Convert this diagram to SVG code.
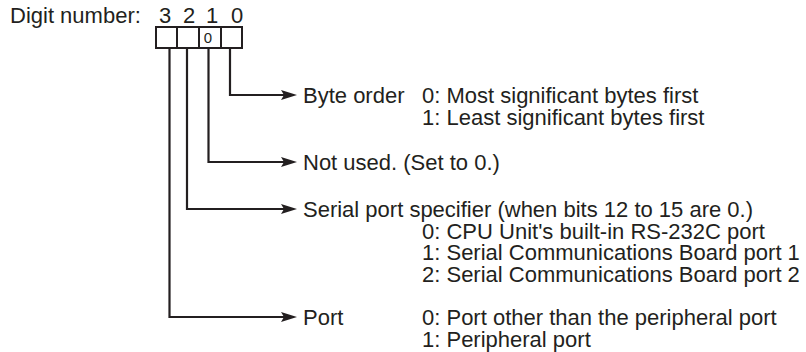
<svg xmlns="http://www.w3.org/2000/svg" width="806" height="352" viewBox="0 0 806 352">
<style>
text{font-family:"Liberation Sans",Arial,Helvetica,sans-serif;font-size:22px;fill:#231f20}
.small{font-size:15px}
.box{fill:#fff;stroke:#231f20;stroke-width:2}
.conn{fill:none;stroke:#231f20;stroke-width:2.2}
</style>
<defs>
<marker id="arr" markerUnits="userSpaceOnUse" markerWidth="16" markerHeight="10" refX="9" refY="5" orient="auto">
<path d="M0,0 L16,5 L0,10 L3,5 Z" fill="#231f20"/>
</marker>
</defs>
<g id="header">
<text x="10" y="23">Digit number:</text>
<text x="159 171 183 195 206 219 231" y="23">3 2 1 0</text>
</g>
<g id="digits">
<rect class="box" x="156" y="27" width="86" height="21"/>
<line class="box" x1="177" y1="27" x2="177" y2="48"/>
<line class="box" x1="199" y1="27" x2="199" y2="48"/>
<line class="box" x1="221" y1="27" x2="221" y2="48"/>
<text class="small" x="208" y="43" text-anchor="middle">0</text>
</g>
<g id="connectors">
<path class="conn" d="M230,48 V95 H290" marker-end="url(#arr)"/>
<path class="conn" d="M208.5,48 V162 H290" marker-end="url(#arr)"/>
<path class="conn" d="M187,48 V209 H290" marker-end="url(#arr)"/>
<path class="conn" d="M169.5,48 V317 H290" marker-end="url(#arr)"/>
</g>
<g id="byte-order">
<text x="303" y="103">Byte order</text>
<text x="422" y="103">0: Most significant bytes first</text>
<text x="422" y="124.5">1: Least significant bytes first</text>
</g>
<g id="not-used">
<text x="303" y="170">Not used. (Set to 0.)</text>
</g>
<g id="serial-port">
<text x="303" y="217">Serial port specifier (when bits 12 to 15 are 0.)</text>
<text x="422" y="238.5">0: CPU Unit's built-in RS-232C port</text>
<text x="422" y="260">1: Serial Communications Board port 1</text>
<text x="422" y="281.5">2: Serial Communications Board port 2</text>
</g>
<g id="port">
<text x="303" y="325">Port</text>
<text x="422" y="325">0: Port other than the peripheral port</text>
<text x="422" y="346.5">1: Peripheral port</text>
</g>
</svg>
